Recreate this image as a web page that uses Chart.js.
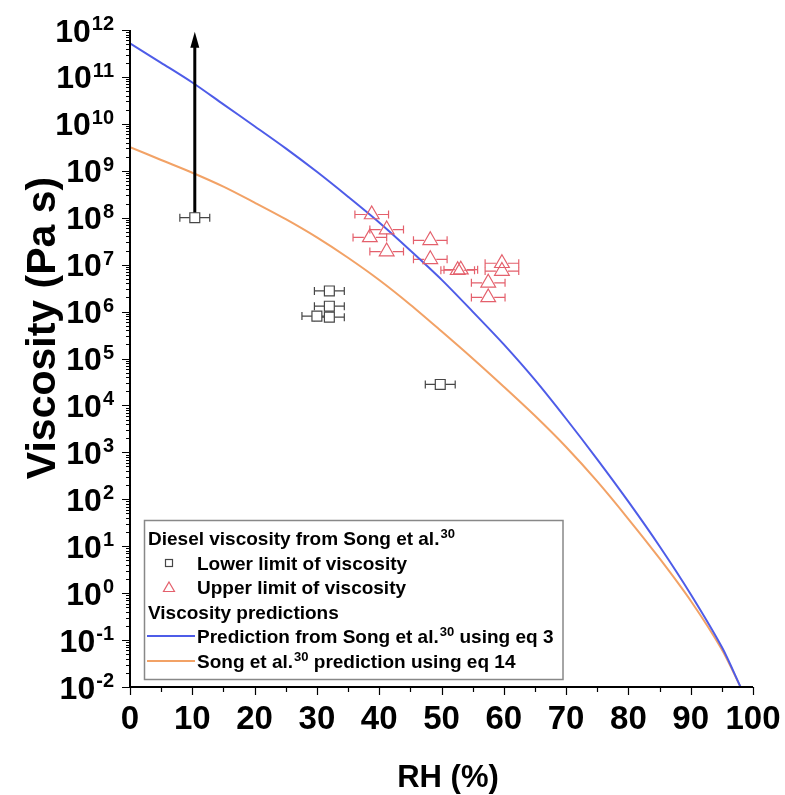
<!DOCTYPE html>
<html><head><meta charset="utf-8">
<script src="https://cdn.jsdelivr.net/npm/chart.js@4.4.0/dist/chart.umd.min.js"></script>
<style>html,body{margin:0;padding:0;background:#fff}#wrap{position:relative;width:785px;height:795px}</style>
</head><body><div id="wrap"><canvas id="c"></canvas></div>
<script>
// ---- data ----
const rhGrid = [0,5,10,15,20,25,30,35,40,45,50,55,60,65,70,75,80,85,90,95,98];
const predEq3 = [5.2e11,2.0e11,7.6e10,2.6e10,8.9e9,3.0e9,9.5e8,2.8e8,7.9e7,2.0e7,4.8e6,1.0e6,2.0e5,3.5e4,5.2e3,710,89,10,0.95,0.071,0.01];
const predEq14 = [3.2e9,1.7e9,9.1e8,4.6e8,2.1e8,9.3e7,3.8e7,1.4e7,4.7e6,1.4e6,3.8e5,1.0e5,2.5e4,6.0e3,1.3e3,240,38,5.5,0.69,0.063,0.01];

const lowerRH = [10.4,32.0,32.0,30.0,32.0,49.8];
const lowerVisc = [1.0e8,2.75e6,1.3e6,8.0e5,7.6e5,2.8e4];
const lowerErr = [2.4,2.4,2.4,2.4,2.4,2.4];

const upperRH = [38.8,41.2,38.5,41.2,48.2,48.2,53.1,52.6,59.7,59.7,57.5,57.5];
const upperVisc = [1.17e8,5.6e7,3.8e7,1.9e7,3.3e7,1.3e7,7.8e6,7.6e6,1.07e7,7.3e6,4.1e6,2.0e6];
const upperErr = [2.7,2.7,2.7,2.7,2.7,2.7,2.7,2.7,2.7,2.7,2.7,2.7];

const arrowRH = [10.4,10.4];
const arrowVisc = [1.0e8,4.4e11];

const xTickVals = [0,10,20,30,40,50,60,70,80,90,100];
const yTickExps = [12,11,10,9,8,7,6,5,4,3,2,1,0,-1,-2];

const xTitle = 'RH (%)';
const yTitle = 'Viscosity (Pa s)';
const legendHead1 = ['Diesel viscosity from Song et al.','30'];
const legendHead2 = 'Viscosity predictions';
const labelLower = 'Lower limit of viscosity';
const labelUpper = 'Upper limit of viscosity';
const labelEq3 = ['Prediction from Song et al.','30',' using eq 3'];
const labelEq14 = ['Song et al.','30',' prediction using eq 14'];

// ---- styles ----
const FONT = '"Liberation Sans", Arial, sans-serif';
const BLUE = 'rgb(78,92,232)';
const ORANGE = 'rgb(242,162,102)';
const GRAY = 'rgb(70,70,70)';
const RED = 'rgb(228,96,108)';

const pts = (xs, ys) => xs.map((v,i)=>({x:v,y:ys[i]}));

function drawErr(ctx, x, y, xs, ys, es, color, gap){
  ctx.save();
  ctx.strokeStyle = color; ctx.lineWidth = 1.2;
  for(let i=0;i<xs.length;i++){
    const cx = x.getPixelForValue(xs[i]);
    const cy = y.getPixelForValue(ys[i]);
    const lo = x.getPixelForValue(xs[i]-es[i]);
    const hi = x.getPixelForValue(xs[i]+es[i]);
    ctx.beginPath();
    ctx.moveTo(lo,cy); ctx.lineTo(cx-gap,cy);
    ctx.moveTo(cx+gap,cy); ctx.lineTo(hi,cy);
    ctx.moveTo(lo,cy-4); ctx.lineTo(lo,cy+4);
    ctx.moveTo(hi,cy-4); ctx.lineTo(hi,cy+4);
    ctx.stroke();
  }
  ctx.restore();
}

function supText(ctx, parts, x, y, size){
  ctx.font = 'bold '+size+'px '+FONT;
  ctx.fillText(parts[0], x, y);
  let w = ctx.measureText(parts[0]).width;
  ctx.font = 'bold '+Math.round(size*0.66)+'px '+FONT;
  ctx.fillText(parts[1], x+w+1, y-7);
  w += ctx.measureText(parts[1]).width + 1;
  if(parts[2]){
    ctx.font = 'bold '+size+'px '+FONT;
    ctx.fillText(parts[2], x+w, y);
  }
}

const custom = {
  id:'custom',
  beforeDatasetsDraw(chart){
    const {ctx, scales:{x,y}} = chart;
    drawErr(ctx,x,y,lowerRH,lowerVisc,lowerErr,GRAY,5);
    drawErr(ctx,x,y,upperRH,upperVisc,upperErr,RED,6);
  },
  afterDatasetsDraw(chart){
    const {ctx, scales:{x,y}} = chart;
    const px = x.getPixelForValue(arrowRH[1]);
    const py = y.getPixelForValue(arrowVisc[1]);
    ctx.save();
    ctx.fillStyle = '#000';
    ctx.beginPath();
    ctx.moveTo(px, py-15);
    ctx.lineTo(px-4.5, py+1);
    ctx.lineTo(px+4.5, py+1);
    ctx.closePath(); ctx.fill();
    ctx.restore();
  },
  afterDraw(chart){
    const {ctx, chartArea:a, scales:{x,y}} = chart;
    ctx.save();
    ctx.strokeStyle = '#000'; ctx.lineWidth = 2;
    ctx.beginPath();
    ctx.moveTo(a.left, a.top); ctx.lineTo(a.left, a.bottom); ctx.lineTo(a.right, a.bottom);
    ctx.stroke();
    ctx.lineWidth = 1.2;
    ctx.beginPath();
    for(const e of yTickExps){
      const py = Math.round(y.getPixelForValue(Math.pow(10,e)))+0.5;
      ctx.moveTo(a.left-8, py); ctx.lineTo(a.left, py);
      if(e < 12){
        for(let k=2;k<=9;k++){
          const pm = Math.round(y.getPixelForValue(k*Math.pow(10,e)))+0.5;
          ctx.moveTo(a.left-4, pm); ctx.lineTo(a.left, pm);
        }
      }
    }
    for(const v of xTickVals){
      const px = Math.round(x.getPixelForValue(v))+0.5;
      ctx.moveTo(px, a.bottom); ctx.lineTo(px, a.bottom+8);
      if(v < 100){
        const pm = Math.round(x.getPixelForValue(v+5))+0.5;
        ctx.moveTo(pm, a.bottom); ctx.lineTo(pm, a.bottom+5);
      }
    }
    ctx.stroke();
    ctx.fillStyle = '#000';
    ctx.font = 'bold 33px '+FONT;
    ctx.textAlign = 'center'; ctx.textBaseline = 'alphabetic';
    for(const v of xTickVals){
      ctx.fillText(String(v), x.getPixelForValue(v), a.bottom+42);
    }
    ctx.textAlign = 'left';
    for(const e of yTickExps){
      const py = y.getPixelForValue(Math.pow(10,e));
      ctx.font = 'bold 32px '+FONT;
      const wb = ctx.measureText('10').width;
      ctx.font = 'bold 20px '+FONT;
      const es = String(e);
      const we = ctx.measureText(es).width;
      const right = 114;
      const x0 = right - we - wb - 1;
      ctx.font = 'bold 32px '+FONT;
      ctx.fillText('10', x0, py+11.5);
      ctx.font = 'bold 20px '+FONT;
      ctx.fillText(es, x0+wb+1, py);
    }
    ctx.font = 'bold 31px '+FONT;
    ctx.textAlign = 'center';
    ctx.fillText(xTitle, 448, 787);
    ctx.save();
    ctx.translate(55, 328);
    ctx.rotate(-Math.PI/2);
    ctx.font = 'bold 41px '+FONT;
    ctx.fillText(yTitle, 0, 0);
    ctx.restore();
    // legend
    ctx.fillStyle = '#fff';
    ctx.fillRect(144, 520, 419, 160);
    ctx.strokeStyle = '#888'; ctx.lineWidth = 1.5;
    ctx.strokeRect(144.5, 520.5, 418.5, 159);
    ctx.fillStyle = '#000';
    ctx.textAlign = 'left'; ctx.textBaseline = 'alphabetic';
    supText(ctx, legendHead1, 148, 545, 19);
    ctx.font = 'bold 19px '+FONT;
    ctx.fillText(labelLower, 197, 570);
    ctx.fillText(labelUpper, 197, 594);
    ctx.fillText(legendHead2, 148, 619);
    supText(ctx, labelEq3, 197, 643, 19);
    supText(ctx, labelEq14, 197, 668, 19);
    ctx.lineWidth = 1.2;
    ctx.strokeStyle = GRAY;
    ctx.strokeRect(165.5, 559.5, 7, 7);
    ctx.strokeStyle = RED;
    ctx.beginPath();
    ctx.moveTo(169, 582); ctx.lineTo(174.5, 591.5); ctx.lineTo(163.5, 591.5); ctx.closePath();
    ctx.stroke();
    ctx.lineWidth = 2;
    ctx.strokeStyle = BLUE;
    ctx.beginPath(); ctx.moveTo(147, 636); ctx.lineTo(195, 636); ctx.stroke();
    ctx.strokeStyle = ORANGE;
    ctx.beginPath(); ctx.moveTo(147, 661); ctx.lineTo(195, 661); ctx.stroke();
    ctx.restore();
  }
};

new Chart(document.getElementById('c'), {
  type:'scatter',
  data:{datasets:[
    {label:labelLower, data:pts(lowerRH,lowerVisc), pointStyle:'rect', pointRadius:7, pointBorderWidth:1.2,
     borderColor:GRAY, backgroundColor:'rgba(255,255,255,1)', showLine:false, order:0},
    {label:labelUpper, data:pts(upperRH,upperVisc), pointStyle:'triangle', pointRadius:8.5, pointBorderWidth:1.2,
     borderColor:RED, backgroundColor:'rgba(255,255,255,0)', showLine:false, order:1},
    {label:'arrow', data:pts(arrowRH,arrowVisc), showLine:true, pointRadius:0, borderColor:'#000', borderWidth:3, order:2},
    {label:labelEq3.join(''), data:pts(rhGrid,predEq3), showLine:true, pointRadius:0, borderColor:BLUE, borderWidth:2, tension:0.3, order:3},
    {label:labelEq14.join(''), data:pts(rhGrid,predEq14), showLine:true, pointRadius:0, borderColor:ORANGE, borderWidth:2, tension:0.3, order:4}
  ]},
  options:{
    responsive:true, maintainAspectRatio:false, animation:false,
    layout:{padding:{top:30,right:32,left:0,bottom:0}},
    plugins:{legend:{display:false}, tooltip:{enabled:false}},
    scales:{
      x:{type:'linear', min:0, max:100, grid:{display:false}, border:{display:false}, ticks:{display:false},
         afterFit:s=>{s.height=108;}},
      y:{type:'logarithmic', min:0.01, max:1e12, grid:{display:false}, border:{display:false}, ticks:{display:false},
         afterFit:s=>{s.width=130;}}
    }
  },
  plugins:[custom]
});
</script>
</body></html>
